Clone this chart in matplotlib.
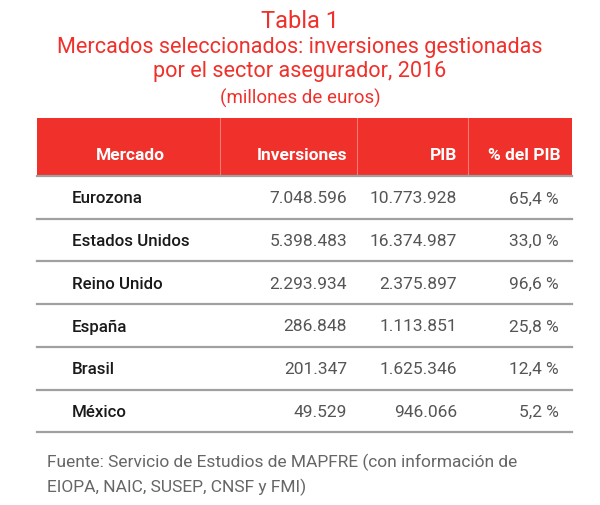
import numpy as np
import matplotlib
matplotlib.use("Agg")
import matplotlib.pyplot as plt
from matplotlib.patches import Rectangle

# ----------------------------
# DATA
# ----------------------------
mercados = ["Eurozona", "Estados Unidos", "Reino Unido", "España", "Brasil", "México"]
inversiones = [7048596, 5398483, 2293934, 286848, 201347, 49529]
pib = [10773928, 16374987, 2375897, 1113851, 1625346, 946066]
pct_pib = [65.4, 33.0, 96.6, 25.8, 12.4, 5.2]
columnas = ["Mercado", "Inversiones", "PIB", "% del PIB"]

titulo = ["Tabla 1",
          "Mercados seleccionados: inversiones gestionadas",
          "por el sector asegurador, 2016"]
unidades = "(millones de euros)"
fuente = ["Fuente: Servicio de Estudios de MAPFRE (con información de",
          "EIOPA, NAIC, SUSEP, CNSF y FMI)"]


def miles(v):
    return f"{v:,}".replace(",", ".")


def porcentaje(v):
    return f"{v:.1f}".replace(".", ",") + " %"


RED = "#f0302a"
FONT = "Roboto"

fig = plt.figure(figsize=(6.0, 5.05), dpi=100)
ax = fig.add_axes([0, 0, 1, 1])
ax.set_xlim(0, 600)
ax.set_ylim(505, 0)
ax.axis("off")

# titles
ax.text(300, 22, titulo[0], color=RED, fontsize=17, family=FONT,
        ha="center", va="center")
ax.text(300, 47, titulo[1], color=RED, fontsize=15.6, family=FONT,
        ha="center", va="center")
ax.text(300, 72, titulo[2], color=RED, fontsize=15.6, family=FONT,
        ha="center", va="center")
ax.text(300, 98, unidades, color=RED, fontsize=13.5, family=FONT,
        ha="center", va="center")

# header
x0, x1 = 37, 572
top, head_bot = 118, 176
ax.add_patch(Rectangle((x0, top), x1 - x0, head_bot - top,
                       facecolor=RED, edgecolor="none"))
for xs in [220, 357, 468]:
    ax.plot([xs, xs], [top, head_bot], color="#f77a72", lw=0.8)

col_x = [130, 347, 457, 561]
col_ha = ["center", "right", "right", "right"]
for c, x, ha in zip(columnas, col_x, col_ha):
    ax.text(x, 155, c, color="white", fontsize=12.5, weight="bold",
            family=FONT, ha=ha, va="center")

# rows
row_h = 42.7
ax.plot([x0, x1], [head_bot, head_bot], color="#a0a0a0", lw=1.6)
for i, m in enumerate(mercados):
    yc = head_bot + row_h * (i + 0.5) + 1.5
    ax.text(72, yc, m, color="#1a1a1a", fontsize=12.2, weight="medium",
            family=FONT, ha="left", va="center")
    ax.text(347, yc, miles(inversiones[i]), color="#555555", fontsize=12.5,
            family=FONT, ha="right", va="center")
    ax.text(457, yc, miles(pib[i]), color="#555555", fontsize=12.5,
            family=FONT, ha="right", va="center")
    ax.text(559, yc, porcentaje(pct_pib[i]), color="#555555", fontsize=12.5,
            family=FONT, ha="right", va="center")
    yl = head_bot + row_h * (i + 1)
    ax.plot([x0, x1], [yl, yl], color="#a0a0a0", lw=1.6)

# source
ax.text(47, 462, fuente[0], color="#666666", fontsize=12.5, family=FONT,
        ha="left", va="center")
ax.text(47, 487, fuente[1], color="#666666", fontsize=12.5, family=FONT,
        ha="left", va="center")

fig.savefig("out.png", dpi=100, facecolor="white")
